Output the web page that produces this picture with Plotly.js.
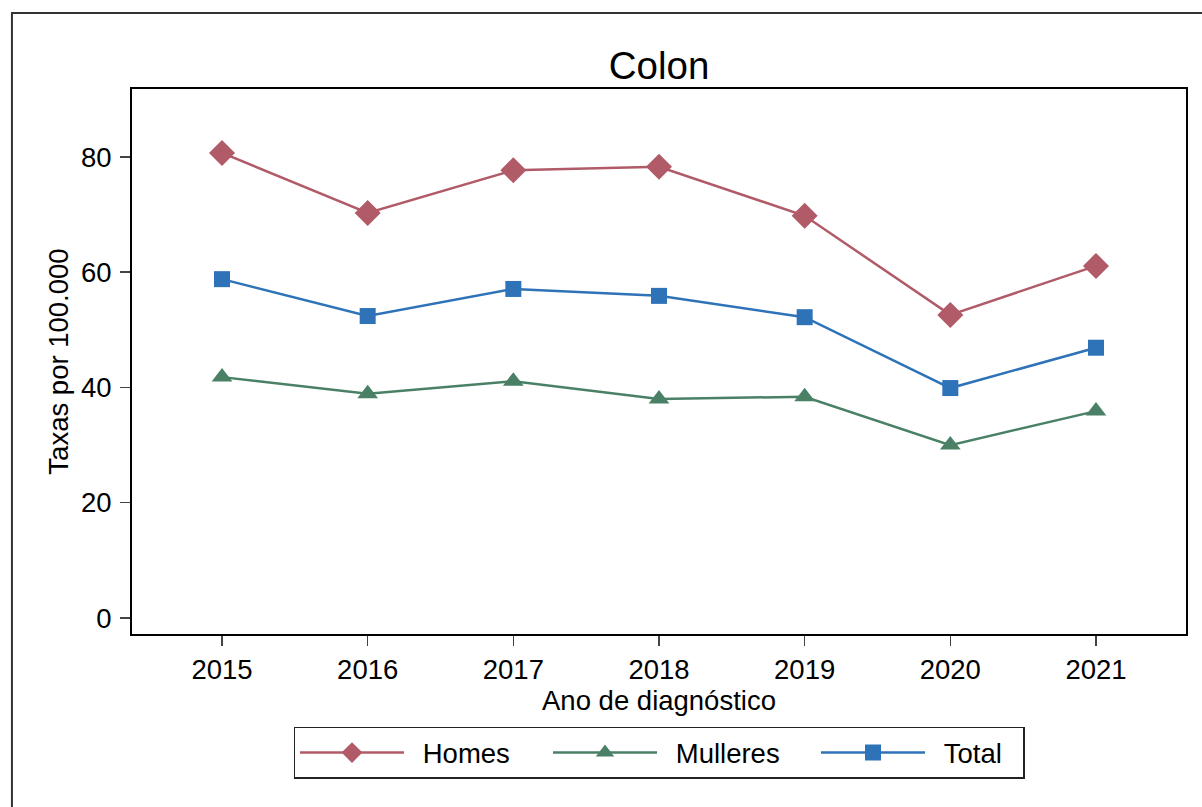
<!DOCTYPE html>
<html>
<head>
<meta charset="utf-8">
<script src="https://cdn.plot.ly/plotly-3.0.1.min.js"></script>
<style>html,body{margin:0;padding:0;background:#fff;}#chart{width:1202px;height:807px;}</style>
</head>
<body>
<div id="chart"></div>
<script>
const years = [2015, 2016, 2017, 2018, 2019, 2020, 2021];
const homes = [80.7, 70.3, 77.7, 78.3, 69.8, 52.6, 61.1];
const mulleres = [41.8, 38.9, 41.1, 38.0, 38.4, 30.0, 35.9];
const total = [58.8, 52.4, 57.1, 55.9, 52.2, 39.9, 46.9];
const seriesNames = ['Homes', 'Mulleres', 'Total'];
const yTicks = [0, 20, 40, 60, 80];

const font = 'Liberation Sans, Arial, sans-serif';
const fs = 27.5;
const gap = '\u2002';

const traces = [
  {x: years, y: homes, name: gap + seriesNames[0], mode: 'lines+markers', legendwidth: 134,
   line: {color: '#b05b67', width: 2.5},
   marker: {symbol: 'diamond', size: 20, color: '#b05b67'}},
  {x: years, y: mulleres, name: gap + seriesNames[1], mode: 'lines+markers', legendwidth: 149,
   line: {color: '#4a8166', width: 2.5},
   marker: {symbol: 'triangle-up', size: 18, color: '#4a8166'}},
  {x: years, y: total, name: gap + seriesNames[2], mode: 'lines+markers', legendwidth: 88,
   line: {color: '#2e72b8', width: 2.5},
   marker: {symbol: 'square', size: 16, color: '#2e72b8'}}
];

const layout = {
  width: 1202, height: 807,
  margin: {l: 132, r: 16, t: 89, b: 173},
  paper_bgcolor: '#fff', plot_bgcolor: '#fff',
  font: {family: font, size: fs, color: '#000'},
  title: {text: 'Colon', font: {family: font, size: 38.5, color: '#000'},
          x: 0.5, xanchor: 'center', xref: 'paper', y: 0.919, yanchor: 'middle', yref: 'container'},
  showlegend: true,
  legend: {orientation: 'h', x: 0.5, xanchor: 'center', y: -0.17, yanchor: 'top',
           bordercolor: '#222', borderwidth: 1.5, itemwidth: 104, entrywidthmode: 'pixels',
           font: {family: font, size: fs, color: '#000'}, traceorder: 'normal'},
  xaxis: {
    range: [2014.382, 2021.618], tickvals: years, ticktext: years.map(String),
    showgrid: false, zeroline: false, showline: true, linecolor: '#000', linewidth: 2, mirror: true,
    ticks: 'outside', ticklen: 10, tickwidth: 1.5, tickcolor: '#444',
    tickfont: {family: font, size: fs, color: '#000'},
    title: {text: 'Ano de diagnóstico', font: {family: font, size: fs, color: '#000'}, standoff: 1},
    automargin: false
  },
  yaxis: {
    range: [-2.78, 91.8], tickvals: yTicks, ticktext: yTicks.map(String),
    showgrid: false, zeroline: false, showline: true, linecolor: '#000', linewidth: 2, mirror: true,
    ticks: 'outside', ticklen: 10, tickwidth: 1.5, tickcolor: '#444', ticklabelstandoff: 3,
    tickfont: {family: font, size: fs, color: '#000'},
    title: {text: 'Taxas por 100.000', font: {family: font, size: fs, color: '#000'}, standoff: 4},
    automargin: false
  },
  shapes: [
    {type: 'rect', xref: 'paper', yref: 'paper', x0: -0.1139, x1: 1.2, y0: -0.5, y1: 1.1394,
     line: {color: '#333', width: 2}, fillcolor: 'rgba(0,0,0,0)', layer: 'below'}
  ]
};

Plotly.newPlot('chart', traces, layout, {displayModeBar: false, staticPlot: true});
</script>
</body>
</html>
